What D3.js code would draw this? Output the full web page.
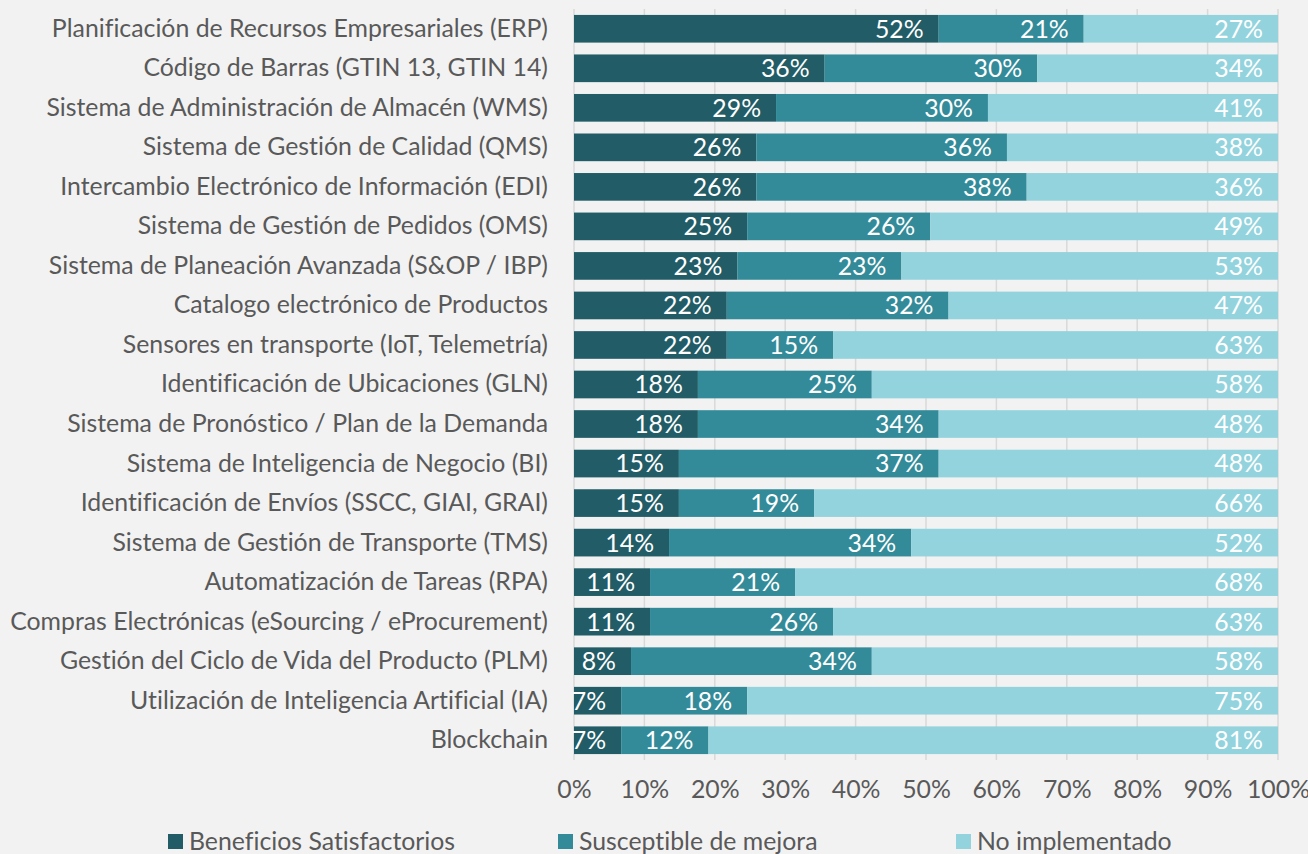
<!DOCTYPE html>
<html><head><meta charset="utf-8">
<script src="https://cdn.jsdelivr.net/npm/d3@7"></script>
<style>
html,body{margin:0;padding:0;background:#F2F2F2;}
svg{display:block;}
text{font-variant-ligatures:none;font-feature-settings:"liga" 0;}
</style></head>
<body>
<svg id="chart" width="1308" height="854"></svg>
<script>
const categories = [
  "Planificación de Recursos Empresariales (ERP)",
  "Código de Barras (GTIN 13, GTIN 14)",
  "Sistema de Administración de Almacén (WMS)",
  "Sistema de Gestión de Calidad (QMS)",
  "Intercambio Electrónico de Información (EDI)",
  "Sistema de Gestión de Pedidos (OMS)",
  "Sistema de Planeación Avanzada (S&OP / IBP)",
  "Catalogo electrónico de Productos",
  "Sensores en transporte (IoT, Telemetría)",
  "Identificación de Ubicaciones (GLN)",
  "Sistema de Pronóstico / Plan de la Demanda",
  "Sistema de Inteligencia de Negocio (BI)",
  "Identificación de Envíos (SSCC, GIAI, GRAI)",
  "Sistema de Gestión de Transporte (TMS)",
  "Automatización de Tareas (RPA)",
  "Compras Electrónicas (eSourcing / eProcurement)",
  "Gestión del Ciclo de Vida del Producto (PLM)",
  "Utilización de Inteligencia Artificial (IA)",
  "Blockchain"
];
// bar lengths (%)
const satisfactorios = [51.8,35.6,28.7,25.9,25.9,24.6,23.2,21.7,21.7,17.6,17.6,14.9,14.9,13.5,10.8,10.8,8.1,6.7,6.7];
const mejora         = [20.6,30.2,30.1,35.6,38.4,26.0,23.3,31.5,15.1,24.7,34.2,36.9,19.2,34.4,20.6,26.0,34.2,17.9,12.4];
const noImplementado = [27.6,34.2,41.2,38.5,35.7,49.4,53.5,46.8,63.2,57.7,48.2,48.2,65.9,52.1,68.6,63.2,57.7,75.4,80.9];
// displayed labels
const labelsSatisf   = [52,36,29,26,26,25,23,22,22,18,18,15,15,14,11,11,8,7,7];
const labelsMejora   = [21,30,30,36,38,26,23,32,15,25,34,37,19,34,21,26,34,18,12];
const labelsNoImpl   = [27,34,41,38,36,49,53,47,63,58,48,48,66,52,68,63,58,75,81];
const seriesNames = ["Beneficios Satisfactorios","Susceptible de mejora","No implementado"];
const colors = ["#225C66","#338B99","#93D3DD"];
const tickValues = [0,10,20,30,40,50,60,70,80,90,100];

const svg = d3.select("#chart");
const FONT = "Lato, 'Open Sans', sans-serif";
const textColor = "#595959";

// fit font size so that the longest label matches the reference width
const probe = svg.append("text").attr("font-family", FONT).attr("font-size", 100)
  .text("Compras Electrónicas (eSourcing / eProcurement)");
const fs = 100 * 538 / probe.node().getComputedTextLength();
probe.remove();

const x = d3.scaleLinear().domain([0,100]).range([574,1278]);
const y = d3.scaleBand().domain(categories).range([9,760]).paddingInner(0.3).paddingOuter(0.15);

// gridlines
svg.append("g").selectAll("line").data(tickValues).join("line")
  .attr("x1", d=>x(d)).attr("x2", d=>x(d))
  .attr("y1", 9).attr("y2", 760)
  .attr("stroke", "#D9D9D9").attr("stroke-width", 1.5);

const rows = categories.map((c,i)=>({cat:c, vals:[satisfactorios[i], mejora[i], noImplementado[i]], labs:[labelsSatisf[i], labelsMejora[i], labelsNoImpl[i]]}));

const g = svg.append("g");
rows.forEach(r=>{
  let acc = 0;
  r.vals.forEach((v,k)=>{
    const x0 = acc, x1 = acc + v; acc = x1;
    g.append("rect")
      .attr("x", x(x0)).attr("width", x(x1)-x(x0))
      .attr("y", y(r.cat)).attr("height", y.bandwidth())
      .attr("fill", colors[k]);
    g.append("text")
      .attr("x", x(x1)-15).attr("y", y(r.cat)+y.bandwidth()/2)
      .attr("dy","0.36em").attr("text-anchor","end")
      .attr("font-family", FONT).attr("font-size", fs)
      .attr("fill","#FFFFFF")
      .text(r.labs[k] + "%");
  });
});

// category axis
const yAxis = svg.append("g").attr("transform","translate(548,0)")
  .call(d3.axisLeft(y).tickSize(0).tickPadding(0));
yAxis.select(".domain").remove();
yAxis.selectAll("text").attr("font-family", FONT).attr("font-size", fs).attr("fill", textColor);

// x axis
const xAxis = svg.append("g").attr("transform","translate(0,780)")
  .call(d3.axisBottom(x).tickValues(tickValues).tickFormat(d=>d+"%").tickSize(0).tickPadding(0));
xAxis.select(".domain").remove();
xAxis.selectAll("text").attr("font-family", FONT).attr("font-size", fs).attr("fill", textColor)
  .attr("dy","0.71em").attr("y", 0);

// legend
const legendX = [168, 558, 956];
const lg = svg.append("g");
seriesNames.forEach((n,k)=>{
  lg.append("rect").attr("x", legendX[k]).attr("y", 834).attr("width",15).attr("height",15).attr("fill", colors[k]);
  lg.append("text").attr("x", legendX[k]+21).attr("y", 841).attr("dy","0.36em")
    .attr("font-family", FONT).attr("font-size", fs).attr("fill", textColor).text(n);
});
</script>
</body></html>
